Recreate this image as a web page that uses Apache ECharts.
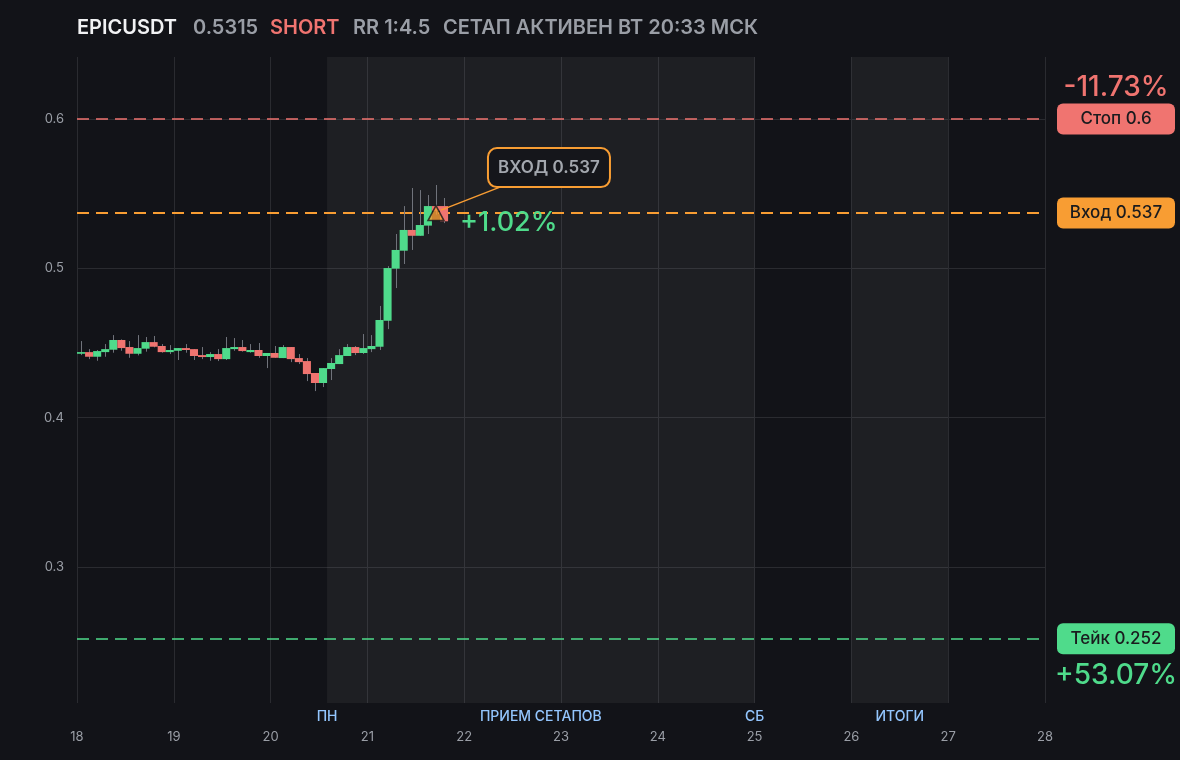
<!DOCTYPE html>
<html>
<head>
<meta charset="utf-8">
<script src="https://cdn.jsdelivr.net/npm/echarts@6/dist/echarts.min.js"></script>
<style>
html,body{margin:0;padding:0;background:#121318;}
#c{width:1180px;height:760px;}
</style>
</head>
<body>
<div id="c"></div>
<script>
// ---- data ----
const symbolName = 'EPICUSDT';
const lastPrice = 0.5315;
const side = 'SHORT';
const setupText = 'СЕТАП АКТИВЕН ВТ 20:33 МСК';

const candleTimes = [
  '18 01','18 03','18 05','18 07','18 09','18 11','18 13','18 15','18 17','18 19','18 21','18 23',
  '19 01','19 03','19 05','19 07','19 09','19 11','19 13','19 15','19 17','19 19','19 21','19 23',
  '20 01','20 03','20 05','20 07','20 09','20 11','20 13','20 15','20 17','20 19','20 21','20 23',
  '21 01','21 03','21 05','21 07','21 09','21 11','21 13','21 15','21 17','21 19'
];
const opens = [
  0.4428,0.4439,0.4408,0.4439,0.4455,0.4520,0.4473,0.4428,0.4462,0.4506,0.4480,0.4439,
  0.4448,0.4466,0.4459,0.4419,0.4406,0.4426,0.4392,0.4459,0.4473,0.4439,0.4453,0.4413,
  0.4433,0.4399,0.4473,0.4399,0.4379,0.4299,0.4232,0.4326,0.4359,0.4413,0.4473,0.4433,
  0.4459,0.4475,0.4649,0.4998,0.5118,0.5257,0.5218,0.5286,0.5417,0.5417
];
const closes = [
  0.4439,0.4408,0.4446,0.4459,0.4520,0.4466,0.4428,0.4466,0.4506,0.4475,0.4439,0.4453,
  0.4466,0.4453,0.4413,0.4406,0.4426,0.4392,0.4466,0.4473,0.4446,0.4453,0.4413,0.4433,
  0.4401,0.4473,0.4392,0.4372,0.4292,0.4232,0.4332,0.4366,0.4419,0.4473,0.4433,0.4466,
  0.4480,0.4654,0.5002,0.5123,0.5257,0.5218,0.5290,0.5417,0.5385,0.5315
];
const lows = [
  0.4419,0.4392,0.4381,0.4408,0.4435,0.4448,0.4401,0.4417,0.4442,0.4471,0.4435,0.4426,
  0.4386,0.4435,0.4386,0.4392,0.4381,0.4379,0.4386,0.4448,0.4442,0.4435,0.4401,0.4332,
  0.4401,0.4399,0.4372,0.4359,0.4245,0.4178,0.4205,0.4252,0.4359,0.4413,0.4419,0.4426,
  0.4439,0.4453,0.4593,0.4868,0.5029,0.5123,0.5218,0.5230,0.5360,0.5303
];
const highs = [
  0.4513,0.4459,0.4453,0.4493,0.4553,0.4524,0.4513,0.4553,0.4540,0.4547,0.4493,0.4486,
  0.4466,0.4493,0.4459,0.4473,0.4439,0.4459,0.4540,0.4533,0.4520,0.4493,0.4500,0.4433,
  0.4480,0.4486,0.4473,0.4426,0.4399,0.4299,0.4332,0.4399,0.4459,0.4493,0.4480,0.4560,
  0.4553,0.4748,0.5015,0.5230,0.5417,0.5538,0.5524,0.5491,0.5558,0.5471
];

const entryPrice = 0.537;
const stopPrice = 0.6;
const takePrice = 0.252;
const entryCandleTime = '21 17';

const dayMin = 18, dayMax = 28;
const priceMin = 0.20893, priceMax = 0.64152;

const shadeStarts = [20.5833, 26];
const shadeEnds = [25, 27];
const sessionLabelValues = [20.5833, 22.7917, 25, 26.5];
const sessionLabelTexts = ['ПН', 'ПРИЕМ СЕТАПОВ', 'СБ', 'ИТОГИ'];

// ---- colors ----
const GREEN = '#4fdb8b', RED = '#f07470', ORANGE = '#f89d33';
const GRID = '#2a2b30', TXT = '#9a9ea6';
const FONT = 'Inter, "Noto Sans", sans-serif';

function parseTime(s) {
  const [d, hm] = s.split(' ');
  const [h, m] = hm.split(':');
  return Number(d) + (Number(h) + (m ? Number(m) : 0) / 60) / 24;
}
const candleX = candleTimes.map(parseTime);
const candleData = candleX.map((x, i) => [x, opens[i], closes[i], lows[i], highs[i]]);
const candleStep = candleX[1] - candleX[0];
const entryX = parseTime(entryCandleTime);

const rr = Math.abs((takePrice - entryPrice) / (entryPrice - stopPrice));
const pctStop = Math.abs(stopPrice - entryPrice) / entryPrice * 100;
const pctTake = Math.abs(entryPrice - takePrice) / entryPrice * 100;
const pctNow = (entryPrice - lastPrice) / entryPrice * 100;

const chart = echarts.init(document.getElementById('c'));

const option = {
  backgroundColor: '#121318',
  animation: false,
  grid: {left: 77, right: 135, top: 57, bottom: 57},
  xAxis: [{
    type: 'value', min: dayMin, max: dayMax, interval: 1,
    axisLine: {show: false}, axisTick: {show: false},
    splitLine: {show: true, lineStyle: {color: GRID, width: 1}},
    axisLabel: {color: TXT, fontSize: 13, fontFamily: FONT, margin: 28,
      formatter: v => String(Math.round(v))}
  }, {
    type: 'value', min: dayMin, max: dayMax, position: 'bottom',
    axisLine: {show: false}, axisTick: {show: false}, splitLine: {show: false},
    axisLabel: {
      customValues: sessionLabelValues,
      color: '#93c5fd', fontSize: 14, fontWeight: 500, fontFamily: FONT, margin: 7,
      formatter: v => {
        let best = 0;
        sessionLabelValues.forEach((s, i) => { if (Math.abs(s - v) < Math.abs(sessionLabelValues[best] - v)) best = i; });
        return sessionLabelTexts[best];
      }
    }
  }],
  yAxis: {
    type: 'value', min: priceMin, max: priceMax,
    axisLine: {show: false}, axisTick: {show: false},
    splitLine: {show: true, showMinLine: false, showMaxLine: false, lineStyle: {color: GRID, width: 1}},
    axisLabel: {color: TXT, fontSize: 13, fontFamily: FONT, margin: 13,
      showMinLabel: false, showMaxLabel: false,
      formatter: v => String(Math.round(v * 10) / 10)}
  },
  series: [{
    type: 'custom',
    xAxisIndex: 0, yAxisIndex: 0,
    data: candleData,
    encode: {x: 0, y: [1, 2, 3, 4]},
    clip: true,
    renderItem: function (params, api) {
      const x = api.value(0), o = api.value(1), c = api.value(2), l = api.value(3), h = api.value(4);
      const pO = api.coord([x, o]), pC = api.coord([x, c]);
      const pL = api.coord([x, l]), pH = api.coord([x, h]);
      const w = api.size([candleStep, 0])[0];
      const up = c >= o;
      const top = Math.min(pO[1], pC[1]);
      const ht = Math.max(1.5, Math.abs(pO[1] - pC[1]));
      const cx = Math.round(pO[0]) + 0.5;
      return {
        type: 'group',
        children: [{
          type: 'line',
          shape: {x1: cx, y1: pH[1], x2: cx, y2: pL[1]},
          style: {stroke: '#70737b', lineWidth: 1}
        }, {
          type: 'rect',
          shape: {x: pO[0] - w / 2, y: top, width: w, height: ht},
          style: {fill: up ? GREEN : RED}
        }]
      };
    },
    markArea: {
      silent: true,
      itemStyle: {color: 'rgba(255,255,255,0.052)'},
      data: shadeStarts.map((s, i) => [{xAxis: s}, {xAxis: shadeEnds[i]}])
    },
    z: 2
  }, {
    type: 'scatter',
    xAxisIndex: 0, yAxisIndex: 0,
    data: [[entryX, entryPrice]],
    symbol: 'triangle',
    symbolSize: [16, 15],
    itemStyle: {color: ORANGE, borderColor: '#15161a', borderWidth: 1.5},
    silent: true,
    markLine: {
      silent: true,
      precision: 6,
      symbol: ['none', 'none'],
      label: {show: false},
      z: 1,
      data: [
        {yAxis: stopPrice, lineStyle: {color: RED, type: [12, 7], width: 1.6}},
        {yAxis: entryPrice, lineStyle: {color: ORANGE, type: [12, 7], width: 1.8}},
        {yAxis: takePrice, lineStyle: {color: GREEN, type: [12, 7], width: 1.6}}
      ]
    },
    z: 5
  }]
};
chart.setOption(option);

// ---- annotations positioned through the chart's own scales ----
const toPx = (x, y) => chart.convertToPixel({seriesIndex: 0}, [x, y]);
const yStop = toPx(dayMax, stopPrice)[1];
const yEntry = toPx(dayMax, entryPrice)[1];
const yTake = toPx(dayMax, takePrice)[1];
const xRight = toPx(dayMax, entryPrice)[0];
const tri = toPx(entryX, entryPrice);

const badgeX = xRight + 12, badgeW = 118, badgeH = 31;
function badge(y, color, text) {
  return [{
    type: 'rect', shape: {x: badgeX, y: y - badgeH / 2, width: badgeW, height: badgeH, r: 6},
    style: {fill: color}, z: 10
  }, {
    type: 'text', x: badgeX + badgeW / 2, y: y,
    style: {text: text, fill: '#1a1b1e', font: '500 17px ' + FONT, align: 'center', verticalAlign: 'middle'},
    z: 11
  }];
}
function titleText(x, text, color) {
  return {type: 'text', x: x, y: 28,
    style: {text: text, fill: color, font: '600 20px ' + FONT, verticalAlign: 'middle'}};
}
const boxX = tri[0] + 52, boxY = tri[1] - 65, boxW = 122, boxH = 39;

chart.setOption({
  graphic: [
    titleText(77, symbolName, '#f1f2f4'),
    titleText(193, lastPrice.toFixed(4), TXT),
    titleText(270, side, RED),
    titleText(353, 'RR 1:' + rr.toFixed(1), TXT),
    titleText(443, setupText, TXT),
    ...badge(yStop, RED, 'Стоп ' + stopPrice),
    ...badge(yEntry, ORANGE, 'Вход ' + entryPrice),
    ...badge(yTake, GREEN, 'Тейк ' + takePrice),
    {type: 'text', x: badgeX + badgeW / 2, y: yStop - 31,
      style: {text: '-' + pctStop.toFixed(2) + '%', fill: RED, font: '500 28px ' + FONT, align: 'center', verticalAlign: 'middle'}},
    {type: 'text', x: badgeX + badgeW / 2, y: yTake + 37,
      style: {text: '+' + pctTake.toFixed(2) + '%', fill: GREEN, font: '500 28px ' + FONT, align: 'center', verticalAlign: 'middle'}},
    {type: 'text', x: tri[0] + 24, y: tri[1] + 10,
      style: {text: '+' + pctNow.toFixed(2) + '%', fill: GREEN, font: '500 27px ' + FONT, verticalAlign: 'middle'}, z: 10},
    {type: 'line', shape: {x1: tri[0] + 5, y1: tri[1] - 3, x2: boxX + 12, y2: boxY + boxH},
      style: {stroke: ORANGE, lineWidth: 1.5}, z: 9},
    {type: 'rect', shape: {x: boxX, y: boxY, width: boxW, height: boxH, r: 9},
      style: {fill: '#15161b', stroke: ORANGE, lineWidth: 2}, z: 10},
    {type: 'text', x: boxX + boxW / 2, y: boxY + boxH / 2,
      style: {text: 'ВХОД ' + entryPrice, fill: '#a3a7ae', font: '600 17px ' + FONT, align: 'center', verticalAlign: 'middle'}, z: 11}
  ]
});
</script>
</body>
</html>
